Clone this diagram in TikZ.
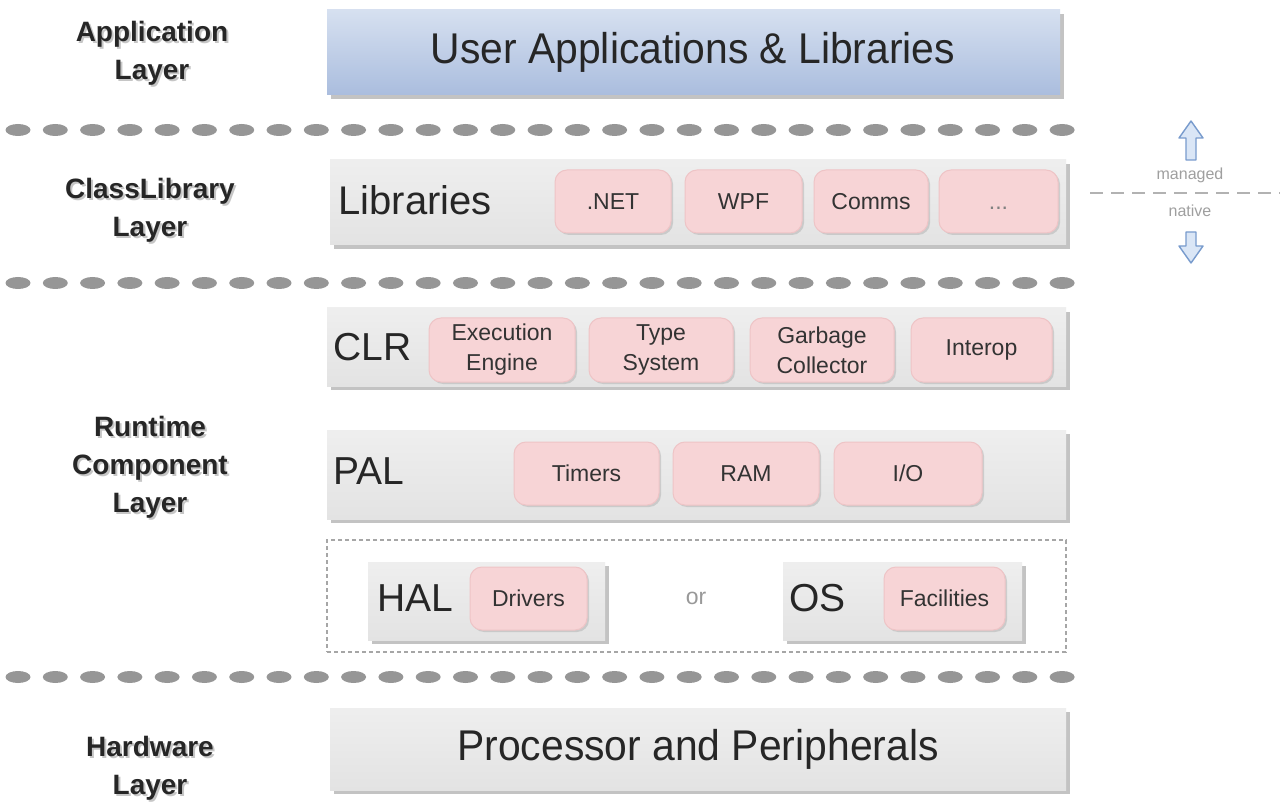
\documentclass[tikz,border=0pt]{standalone}
\usepackage{fontspec}
\setmainfont{Liberation Sans}
\newfontfamily\narrowsans[FakeStretch=0.95]{Liberation Sans}
\usetikzlibrary{shadows,fit}
\definecolor{dotgray}{RGB}{150,150,150}
\definecolor{appTop}{RGB}{214,224,240}
\definecolor{appMid}{RGB}{232,238,248}
\definecolor{appBot}{RGB}{170,189,222}
\definecolor{pinkEdge}{RGB}{247,212,214}
\definecolor{pinkLine}{RGB}{238,196,198}
\definecolor{pinkMid}{RGB}{254,242,242}
\definecolor{arrowBlue}{RGB}{120,155,205}
\definecolor{arrowFill}{RGB}{218,230,246}
\definecolor{shadowgray}{RGB}{170,170,170}
\begin{document}
\begin{tikzpicture}[x=0.5pt,y=-0.5pt,
  layerbox/.style={inner sep=0pt, top color=gray!13, middle color=gray!3, bottom color=gray!22,
    drop shadow={shadow xshift=2pt,shadow yshift=-2pt,fill=shadowgray,opacity=0.7}},
  appbox/.style={inner sep=0pt, top color=appTop, middle color=appMid, bottom color=appBot,
    drop shadow={shadow xshift=2pt,shadow yshift=-2pt,fill=shadowgray,opacity=0.7}},
  pinkbox/.style={inner sep=0pt, rounded corners=6pt, draw=pinkLine, line width=0.5pt,
    top color=pinkEdge, middle color=pinkMid, bottom color=pinkEdge,
    drop shadow={shadow xshift=1pt,shadow yshift=-1pt,fill=shadowgray,opacity=0.45}},
  pinktext/.style={align=center, inner sep=0pt,
    font=\fontsize{11.5pt}{15pt}\selectfont, text=black!80},
  bigtext/.style={font=\narrowsans\fontsize{21.5pt}{25pt}\selectfont, text=black!85},
  midtext/.style={font=\fontsize{19.5pt}{23pt}\selectfont, text=black!85, inner sep=0pt},
  lefttext/.style={font=\fontsize{14pt}{19pt}\selectfont\bfseries, align=center, text=black!85},
  leftshadow/.style={font=\fontsize{14pt}{19pt}\selectfont\bfseries, align=center, text=gray!45},
  smalltext/.style={font=\fontsize{8pt}{10pt}\selectfont, text=gray!75},
  dotrow/.style={fill=dotgray},
  bluearrow/.style={draw=arrowBlue, fill=arrowFill, line width=0.7pt, line join=round}
]
\useasboundingbox (0,0) rectangle (1280,802);
\fill[white] (0,0) rectangle (1280,802);

% ---- left labels ----
\node[leftshadow] (appLs) at (154,55) {Application\\Layer};
\node[lefttext] (appL) at (152,53) {Application\\Layer};
\node[leftshadow] (clsLs) at (152,212) {ClassLibrary\\Layer};
\node[lefttext] (clsL) at (150,210) {ClassLibrary\\Layer};
\node[leftshadow] (rtLs) at (152,469) {Runtime\\Component\\Layer};
\node[lefttext] (rtL) at (150,467) {Runtime\\Component\\Layer};
\node[leftshadow] (hwLs) at (152,770) {Hardware\\Layer};
\node[lefttext] (hwL) at (150,768) {Hardware\\Layer};

% ---- dotted separators ----
\foreach \yy in {130,283,677}{
  \foreach \i in {0,...,28}{
    \fill[dotrow] (18+37.29*\i,\yy) ellipse [x radius=6.25pt, y radius=3pt];
  }
}

% ---- application layer ----
\node[appbox, fit={(327,10)(1060,95)}] (app) {};
\node[bigtext] (appT) at (693,52) {User Applications \& Libraries};

% ---- class library layer ----
\node[layerbox, fit={(330,160)(1066,245)}] (lib) {};
\node[midtext, anchor=west, font=\fontsize{20pt}{24pt}\selectfont] (libT) at (338,200) {Libraries};
\node[pinkbox, fit={(555,170)(671,233)}] (net) {};
\node[pinktext] (netT) at (net.center) {.NET};
\node[pinkbox, fit={(685,170)(802,233)}] (wpf) {};
\node[pinktext] (wpfT) at (wpf.center) {WPF};
\node[pinkbox, fit={(814,170)(928,233)}] (comms) {};
\node[pinktext] (commsT) at (comms.center) {Comms};
\node[pinkbox, fit={(939,170)(1058,233)}] (more) {};
\node[pinktext, text=gray] (moreT) at (more.center) {\vphantom{A}...};

% ---- managed / native ----
\coordinate (dl) at (1090,193);
\coordinate (dr) at (1280,193);
\draw[gray!60, line width=1pt, dash pattern=on 6.5pt off 4pt] (dl) -- (dr);
\node[smalltext] (managed) at (1190,175) {managed};
\node[smalltext] (native) at (1190,211) {native};
\draw[bluearrow] (1191,121) -- (1203,138) -- (1196,138) -- (1196,160) -- (1186,160) -- (1186,138) -- (1179,138) -- cycle;
\draw[bluearrow] (1191,263) -- (1203,246) -- (1196,246) -- (1196,232) -- (1186,232) -- (1186,246) -- (1179,246) -- cycle;

% ---- CLR ----
\node[layerbox, fit={(327,308)(1066,386)}] (clr) {};
\node[midtext, anchor=west] (clrT) at (333,347) {CLR};
\node[pinkbox, fit={(429,318)(575,382)}] (exe) {};
\node[pinktext] (exeT) at (exe.center) {Execution\\Engine};
\node[pinkbox, fit={(589,318)(733,382)}] (type) {};
\node[pinktext] (typeT) at (type.center) {Type\\System};
\node[pinkbox, fit={(750,318)(894,382)}] (gc) {};
\node[pinktext] (gcT) at (gc.center) {Garbage\\Collector};
\node[pinkbox, fit={(911,318)(1052,382)}] (interop) {};
\node[pinktext] (interopT) at (interop.center) {Interop};

% ---- PAL ----
\node[layerbox, fit={(327,430)(1066,519)}] (pal) {};
\node[midtext, anchor=west] (palT) at (333,471) {PAL};
\node[pinkbox, fit={(514,442)(659,505)}] (timers) {};
\node[pinktext] (timersT) at (timers.center) {Timers};
\node[pinkbox, fit={(673,442)(819,505)}] (ram) {};
\node[pinktext] (ramT) at (ram.center) {RAM};
\node[pinkbox, fit={(834,442)(982,505)}] (io) {};
\node[pinktext] (ioT) at (io.center) {I/O};

% ---- HAL or OS ----
\node[draw=gray!70, line width=0.8pt, dash pattern=on 2pt off 1.5pt, inner sep=0pt, fit={(327,540)(1066,652)}] (choice) {};
\node[layerbox, fit={(368,562)(605,640)}] (hal) {};
\node[midtext, anchor=west] (halT) at (377,598) {HAL};
\node[pinkbox, fit={(470,567)(587,630)}] (drivers) {};
\node[pinktext] (driversT) at (drivers.center) {Drivers};
\node[font=\fontsize{11.5pt}{14pt}\selectfont, text=gray!80] (or) at (696,598) {or};
\node[layerbox, fit={(783,562)(1022,640)}] (os) {};
\node[midtext, anchor=west] (osT) at (789,598) {OS};
\node[pinkbox, fit={(884,567)(1005,630)}] (fac) {};
\node[pinktext] (facT) at (fac.center) {Facilities};

% ---- hardware ----
\node[layerbox, fit={(330,708)(1066,790)}] (hw) {};
\node[bigtext] (hwT) at (hw.center) {Processor and Peripherals};
\end{tikzpicture}
\end{document}
